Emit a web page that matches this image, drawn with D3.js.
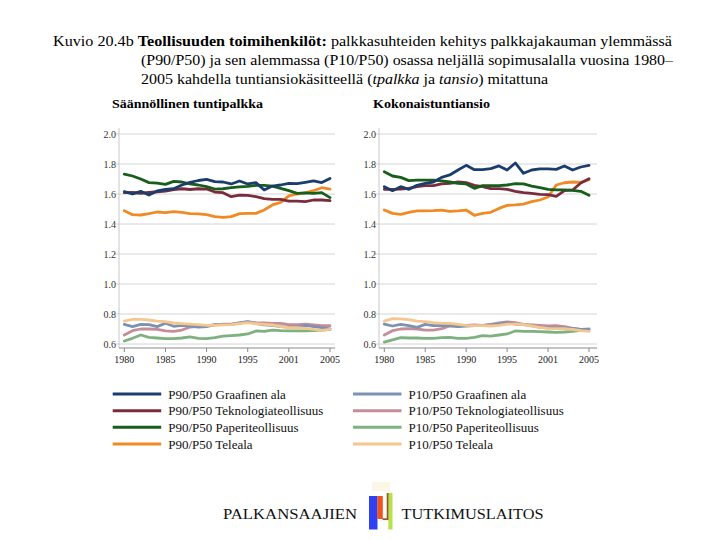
<!DOCTYPE html>
<html>
<head>
<meta charset="utf-8">
<script src="https://cdn.jsdelivr.net/npm/d3@7"></script>
<style>
  html, body { margin: 0; padding: 0; background: #fff; }
  svg { display: block; }
  text { font-family: "Liberation Serif", "Times New Roman", serif; }
</style>
</head>
<body>
<svg id="chart" width="720" height="540"></svg>
<script>
// ---------------- DATA ----------------
const years = [1980,1981,1982,1983,1984,1985,1986,1987,1988,1989,1990,1991,1992,1993,1994,1995,1996,1997,1998,1999,2000,2001,2002,2003,2004,2005];
const xTickYears = [1980, 1985, 1990, 1995, 2000, 2005];
const xTickLabels = ["1980", "1985", "1990", "1995", "2001", "2005"];
const yTicks = [0.6, 0.8, 1.0, 1.2, 1.4, 1.6, 1.8, 2.0];

const seriesNames = [
  "P90/P50 Graafinen ala", "P90/P50 Teknologiateollisuus", "P90/P50 Paperiteollisuus", "P90/P50 Teleala",
  "P10/P50 Graafinen ala", "P10/P50 Teknologiateollisuus", "P10/P50 Paperiteollisuus", "P10/P50 Teleala"
];
const seriesColors = ["#1b3d6d", "#7b2c3c", "#175e1b", "#ef8a25", "#7b93b3", "#c48d9a", "#7db17f", "#f7c68f"];

const panelTitles = ["Säännöllinen tuntipalkka", "Kokonaistuntiansio"];

// Säännöllinen tuntipalkka (tpalkka)
const L_P90_graaf  = [1.616,1.600,1.618,1.593,1.620,1.630,1.635,1.660,1.678,1.690,1.698,1.682,1.680,1.667,1.687,1.667,1.676,1.627,1.653,1.660,1.671,1.669,1.678,1.687,1.676,1.704];
const L_P90_tekno  = [1.609,1.610,1.605,1.610,1.615,1.620,1.630,1.635,1.630,1.635,1.633,1.613,1.609,1.582,1.593,1.591,1.582,1.569,1.564,1.564,1.553,1.553,1.549,1.560,1.560,1.556];
const L_P90_paperi = [1.733,1.720,1.700,1.676,1.673,1.664,1.684,1.680,1.667,1.660,1.649,1.633,1.635,1.642,1.647,1.651,1.658,1.658,1.653,1.638,1.622,1.604,1.607,1.604,1.609,1.576];
const L_P90_tele   = [1.489,1.462,1.460,1.469,1.480,1.476,1.482,1.478,1.469,1.467,1.462,1.449,1.444,1.449,1.469,1.471,1.471,1.493,1.527,1.544,1.587,1.600,1.607,1.622,1.642,1.633];
const L_P10_graaf  = [0.731,0.716,0.731,0.729,0.716,0.738,0.718,0.724,0.720,0.713,0.716,0.729,0.729,0.731,0.740,0.749,0.736,0.727,0.724,0.716,0.713,0.713,0.724,0.716,0.709,0.700];
const L_P10_tekno  = [0.660,0.689,0.700,0.700,0.698,0.687,0.684,0.693,0.713,0.718,0.722,0.727,0.733,0.733,0.740,0.747,0.742,0.740,0.738,0.738,0.729,0.729,0.733,0.727,0.722,0.722];
const L_P10_paperi = [0.620,0.638,0.660,0.644,0.640,0.636,0.636,0.640,0.647,0.638,0.636,0.642,0.653,0.656,0.660,0.667,0.687,0.684,0.693,0.689,0.687,0.687,0.687,0.689,0.693,0.698];
const L_P10_tele   = [0.753,0.764,0.764,0.760,0.753,0.749,0.740,0.736,0.733,0.729,0.724,0.724,0.727,0.729,0.736,0.742,0.736,0.731,0.727,0.716,0.709,0.709,0.704,0.698,0.691,0.698];

// Kokonaistuntiansio (tansio)
const R_P90_graaf  = [1.649,1.622,1.649,1.631,1.658,1.671,1.680,1.711,1.727,1.760,1.791,1.762,1.762,1.769,1.787,1.760,1.807,1.738,1.760,1.767,1.767,1.764,1.787,1.760,1.780,1.791];
const R_P90_tekno  = [1.631,1.631,1.633,1.638,1.649,1.656,1.656,1.667,1.671,1.680,1.676,1.658,1.649,1.636,1.636,1.631,1.618,1.609,1.604,1.598,1.596,1.584,1.622,1.627,1.673,1.702];
const R_P90_paperi = [1.749,1.720,1.711,1.689,1.693,1.693,1.693,1.687,1.680,1.671,1.667,1.638,1.656,1.656,1.656,1.660,1.669,1.667,1.653,1.642,1.631,1.627,1.627,1.624,1.618,1.591];
const R_P90_tele   = [1.493,1.471,1.464,1.478,1.487,1.487,1.489,1.493,1.484,1.487,1.493,1.458,1.471,1.478,1.504,1.524,1.527,1.533,1.549,1.560,1.580,1.660,1.675,1.680,1.678,1.695];
const R_P10_graaf  = [0.733,0.720,0.731,0.722,0.711,0.731,0.722,0.724,0.722,0.716,0.720,0.722,0.722,0.729,0.733,0.742,0.733,0.729,0.722,0.711,0.707,0.707,0.707,0.704,0.698,0.698];
const R_P10_tekno  = [0.660,0.689,0.700,0.702,0.700,0.693,0.693,0.702,0.720,0.720,0.724,0.727,0.724,0.731,0.740,0.747,0.742,0.731,0.727,0.724,0.720,0.722,0.716,0.704,0.698,0.700];
const R_P10_paperi = [0.613,0.627,0.642,0.640,0.640,0.638,0.638,0.642,0.644,0.638,0.638,0.644,0.656,0.653,0.660,0.667,0.687,0.684,0.684,0.682,0.680,0.678,0.680,0.684,0.691,0.693];
const R_P10_tele   = [0.753,0.769,0.767,0.762,0.753,0.749,0.742,0.738,0.738,0.731,0.724,0.722,0.722,0.720,0.724,0.733,0.733,0.729,0.720,0.711,0.704,0.702,0.702,0.698,0.689,0.684];

const leftSeries  = [L_P90_graaf, L_P90_tekno, L_P90_paperi, L_P90_tele, L_P10_graaf, L_P10_tekno, L_P10_paperi, L_P10_tele];
const rightSeries = [R_P90_graaf, R_P90_tekno, R_P90_paperi, R_P90_tele, R_P10_graaf, R_P10_tekno, R_P10_paperi, R_P10_tele];

// ---------------- DRAW ----------------
const svg = d3.select("#chart");

// Title
const t1 = svg.append("text").attr("x", 53).attr("y", 46).attr("font-size", 15)
  .attr("textLength", 619).attr("lengthAdjust", "spacingAndGlyphs");
t1.append("tspan").text("Kuvio 20.4b ");
t1.append("tspan").attr("font-weight", "bold").text("Teollisuuden toimihenkilöt:");
t1.append("tspan").text(" palkkasuhteiden kehitys palkkajakauman ylemmässä");

svg.append("text").attr("x", 141).attr("y", 65).attr("font-size", 15)
  .attr("textLength", 532).attr("lengthAdjust", "spacingAndGlyphs")
  .text("(P90/P50) ja sen alemmassa (P10/P50) osassa neljällä sopimusalalla vuosina 1980–");

const t3 = svg.append("text").attr("x", 141).attr("y", 84).attr("font-size", 15)
  .attr("textLength", 407).attr("lengthAdjust", "spacingAndGlyphs");
t3.append("tspan").text("2005 kahdella tuntiansiokäsitteellä (");
t3.append("tspan").attr("font-style", "italic").text("tpalkka");
t3.append("tspan").text(" ja ");
t3.append("tspan").attr("font-style", "italic").text("tansio");
t3.append("tspan").text(") mitattuna");

// Panels
const panels = [
  { title: panelTitles[0], titleX: 112, titleW: 151, axisX: 119, x0: 124.3, x1: 330, gridEnd: 335, data: leftSeries },
  { title: panelTitles[1], titleX: 373, titleW: 117, axisX: 379, x0: 384.3, x1: 589, gridEnd: 597, data: rightSeries }
];
const yTop = 134, yBot = 344, axisY = 348;

const drawOrder = [6, 5, 4, 7, 3, 1, 2, 0];

panels.forEach(p => {
  svg.append("text").attr("x", p.titleX).attr("y", 108).attr("font-size", 13.5)
    .attr("font-weight", "bold").attr("textLength", p.titleW).attr("lengthAdjust", "spacingAndGlyphs")
    .text(p.title);

  const x = d3.scaleLinear().domain([1980, 2005]).range([p.x0, p.x1]);
  const y = d3.scaleLinear().domain([0.6, 2.0]).range([yBot, yTop]);

  // grid + y axis
  const g = svg.append("g");
  g.selectAll("line.grid").data(yTicks).join("line")
    .attr("x1", p.axisX - 4).attr("x2", p.gridEnd)
    .attr("y1", d => y(d)).attr("y2", d => y(d))
    .attr("stroke", "#d4d4d4").attr("stroke-width", 1);
  g.append("line").attr("x1", p.axisX).attr("x2", p.axisX).attr("y1", yTop - 6).attr("y2", axisY)
    .attr("stroke", "#c8c8c8").attr("stroke-width", 1);
  g.selectAll("text.yl").data(yTicks).join("text")
    .attr("x", p.axisX - 3).attr("y", d => y(d) + 3.5)
    .attr("text-anchor", "end").attr("font-size", 10).attr("fill", "#333")
    .text(d => d3.format(".1f")(d));

  // x axis
  g.append("line").attr("x1", p.axisX).attr("x2", p.gridEnd).attr("y1", axisY).attr("y2", axisY)
    .attr("stroke", "#888").attr("stroke-width", 1);
  g.selectAll("line.xt").data(xTickYears).join("line")
    .attr("x1", d => x(d)).attr("x2", d => x(d)).attr("y1", axisY).attr("y2", axisY + 4)
    .attr("stroke", "#888");
  g.selectAll("text.xl").data(xTickYears).join("text")
    .attr("x", d => x(d)).attr("y", axisY + 15)
    .attr("text-anchor", "middle").attr("font-size", 10).attr("fill", "#222")
    .text((d, i) => xTickLabels[i]);

  const line = d3.line().x((d, i) => x(years[i])).y(d => y(d));
  drawOrder.forEach(si => {
    svg.append("path").datum(p.data[si])
      .attr("d", line).attr("fill", "none")
      .attr("stroke", seriesColors[si]).attr("stroke-width", 2.8)
      .attr("stroke-linejoin", "round").attr("stroke-linecap", "round");
  });
});

// Legend
const legendRows = [394, 410.7, 427.3, 444];
seriesNames.forEach((name, i) => {
  const col = i < 4 ? 0 : 1;
  const row = i % 4;
  const lx = col === 0 ? 112.7 : 353;
  const ly = legendRows[row];
  svg.append("line").attr("x1", lx).attr("x2", lx + 48.5).attr("y1", ly).attr("y2", ly)
    .attr("stroke", seriesColors[i]).attr("stroke-width", 3);
  svg.append("text").attr("x", lx + 55.5).attr("y", ly + 4.5).attr("font-size", 13)
    .attr("fill", "#111").text(name);
});

// Footer logo
svg.append("text").attr("x", 223).attr("y", 519).attr("font-size", 15).attr("fill", "#111")
  .attr("textLength", 134).attr("lengthAdjust", "spacingAndGlyphs").text("PALKANSAAJIEN");
svg.append("text").attr("x", 401.5).attr("y", 519).attr("font-size", 15).attr("fill", "#111")
  .attr("textLength", 142).attr("lengthAdjust", "spacingAndGlyphs").text("TUTKIMUSLAITOS");
const logo = svg.append("g");
logo.append("rect").attr("x", 369).attr("y", 496).attr("width", 8.5).attr("height", 33.5).attr("fill", "#2f3ff2");
logo.append("rect").attr("x", 377.3).attr("y", 496).attr("width", 5.5).attr("height", 23).attr("fill", "#f0541e");
logo.append("rect").attr("x", 388.3).attr("y", 493).attr("width", 4.2).attr("height", 36.5).attr("fill", "#b5e34a");
logo.append("rect").attr("x", 386.7).attr("y", 493).attr("width", 1.8).attr("height", 27).attr("fill", "#a0561e");
logo.append("rect").attr("x", 382.5).attr("y", 518.3).attr("width", 5).attr("height", 1.8).attr("fill", "#a0561e");
logo.append("rect").attr("x", 372).attr("y", 482).attr("width", 18).attr("height", 9).attr("fill", "#fbf6e6");
</script>
</body>
</html>
